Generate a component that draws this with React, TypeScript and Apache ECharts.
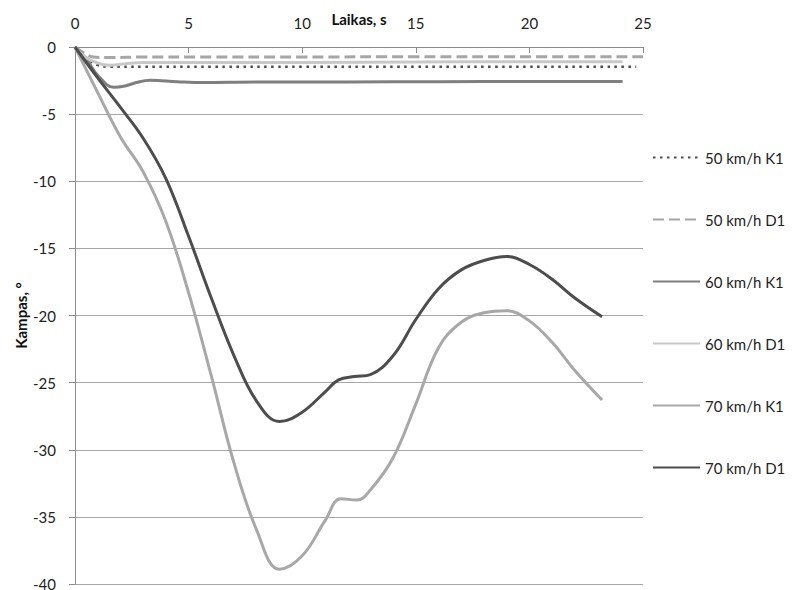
import React, { useEffect, useRef } from "react";
import * as echarts from "echarts";

const seriesNames = ["50 km/h K1", "50 km/h D1", "60 km/h K1", "60 km/h D1", "70 km/h K1", "70 km/h D1"];

const s50K1: [number, number][] = [
  [0, 0], [0.5, -0.8], [1, -1.35], [1.5, -1.47], [3, -1.47], [6, -1.47], [10, -1.47], [15, -1.47], [20, -1.47], [24.7, -1.47],
];
const s50D1: [number, number][] = [
  [0, 0], [0.4, -0.45], [0.8, -0.75], [1.5, -0.78], [3, -0.75], [6, -0.75], [10, -0.74], [15, -0.73], [20, -0.72], [25, -0.72],
];
const s60K1: [number, number][] = [
  [0, 0], [0.5, -0.9], [1, -2.1], [1.7, -3.0], [2.2, -2.9], [2.7, -2.65], [3.3, -2.48], [4.5, -2.58], [5.6, -2.64], [8, -2.6], [12, -2.6], [16, -2.58], [20, -2.57], [24.1, -2.57],
];
const s60D1: [number, number][] = [
  [0, 0], [0.5, -0.8], [1.2, -1.3], [1.6, -1.36], [2.2, -1.25], [3, -1.15], [6, -1.15], [10, -1.15], [15, -1.12], [20, -1.1], [24.1, -1.1],
];
const s70K1: [number, number][] = [
  [0, 0], [1, -3.4], [2, -6.7], [3, -9.3], [4, -13.0], [5, -18.3], [6, -24.5], [7, -31.0], [8, -36.0], [9, -38.9], [10, -37.9], [11, -35.3], [11.7, -33.65], [12.4, -33.75], [13, -33.0], [14, -30.6], [15, -26.6], [16, -22.4], [17, -20.5], [18, -19.8], [19, -19.64], [20, -20.4], [21, -22.0], [22, -24.1], [23.2, -26.3],
];
const s70D1: [number, number][] = [
  [0, 0], [1, -2.3], [2, -4.5], [3, -6.8], [4, -9.8], [5, -14.1], [6, -18.7], [7, -23.0], [8, -26.4], [9, -27.9], [10, -27.2], [11, -25.7], [11.6, -24.8], [12.3, -24.55], [13, -24.4], [14, -23.0], [15, -20.3], [16, -18.0], [17, -16.6], [18, -15.9], [19, -15.6], [20, -16.2], [21, -17.3], [22, -18.7], [23.2, -20.1],
];

const seriesData = [s50K1, s50D1, s60K1, s60D1, s70K1, s70D1];
const seriesColors = ["#4d4d4d", "#a6a6a6", "#7f7f7f", "#c8c8c8", "#a8a8a8", "#4d4d4d"];
const seriesDash: (number[] | "solid")[] = [[2.5, 4.5], [11, 5], "solid", "solid", "solid", "solid"];
const seriesWidth = [2.5, 3, 3, 3, 3, 3];

const xTicks = { min: 0, max: 25, interval: 5 };
const yTicks = { min: -40, max: 0, interval: 5 };

const FONT = "Lato, 'Open Sans', sans-serif";

export default function App() {
  const ref = useRef<HTMLDivElement>(null);
  useEffect(() => {
    document.body.style.margin = "0";
    if (!ref.current) return;
    const chart = echarts.init(ref.current, undefined, { renderer: "svg" });
    chart.setOption({
      animation: false,
      backgroundColor: "#ffffff",
      grid: { left: 75, top: 47, right: 152, bottom: 6, containLabel: false, outerBoundsMode: "none" },
      legend: {
        orient: "vertical",
        left: 652,
        top: 150,
        itemWidth: 47,
        itemHeight: 14,
        itemGap: 47,
        padding: 0,
        itemStyle: { opacity: 0 },
        textStyle: { fontFamily: FONT, fontSize: 15, color: "#222" },
        data: seriesNames,
      },
      xAxis: {
        type: "value",
        position: "top",
        min: xTicks.min,
        max: xTicks.max,
        interval: xTicks.interval,
        name: "Laikas, s",
        nameLocation: "middle",
        nameGap: 21,
        nameMoveOverlap: false,
        nameTextStyle: { fontFamily: FONT, fontSize: 15, fontWeight: "bold", color: "#111" },
        axisLine: { show: true, lineStyle: { color: "#8c8c8c", width: 1 } },
        axisTick: { show: true, inside: true, length: 6, lineStyle: { color: "#8c8c8c" } },
        axisLabel: { fontFamily: FONT, fontSize: 15, color: "#222", margin: 17 },
        splitLine: { show: false },
      },
      yAxis: {
        type: "value",
        min: yTicks.min,
        max: yTicks.max,
        interval: yTicks.interval,
        name: "Kampas, °",
        nameLocation: "middle",
        nameGap: 47,
        nameMoveOverlap: false,
        nameRotate: 90,
        nameTextStyle: { fontFamily: FONT, fontSize: 15, fontWeight: "bold", color: "#111" },
        axisLine: { show: true, onZero: false, lineStyle: { color: "#8c8c8c", width: 1 } },
        axisTick: { show: true, inside: false, length: 6, lineStyle: { color: "#8c8c8c" } },
        axisLabel: { fontFamily: FONT, fontSize: 15, lineHeight: 11, color: "#222", margin: 19 },
        splitLine: { show: true, lineStyle: { color: "#a6a6a6", width: 1 } },
      },
      series: seriesNames.map((name, i) => ({
        name,
        type: "line",
        data: seriesData[i],
        smooth: 0.4,
        symbol: "none",
        showSymbol: false,
        color: seriesColors[i],
        lineStyle: {
          color: seriesColors[i],
          width: seriesWidth[i],
          type: seriesDash[i],
        },
        z: i === 5 || i === 4 ? 3 : 2,
      })),
    });
    return () => chart.dispose();
  }, []);
  return <div ref={ref} style={{ width: 795, height: 590 }} />;
}
